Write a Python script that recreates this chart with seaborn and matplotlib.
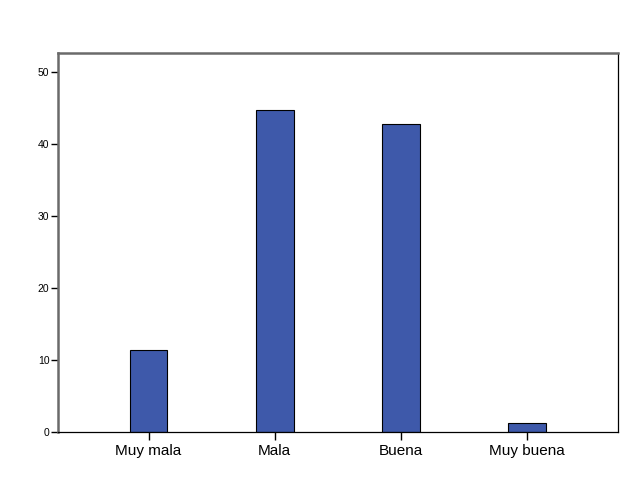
import pandas as pd
import seaborn as sns
import matplotlib
matplotlib.use("Agg")
import matplotlib.pyplot as plt

# data (percent)
categories = ["Muy mala", "Mala", "Buena", "Muy buena"]
values = [11.3, 44.8, 42.8, 1.2]
yticks = [0, 10, 20, 30, 40, 50]

df = pd.DataFrame({"cat": categories, "val": values})

sns.set_style("white")
plt.rcParams["font.family"] = ["Liberation Sans", "DejaVu Sans"]
plt.rcParams["text.color"] = "black"

fig = plt.figure(figsize=(6.26, 5.01), dpi=100)
ax = fig.add_axes([57.7 / 626, 69.3 / 501, 560.3 / 626, 379 / 501])

sns.barplot(data=df, x="cat", y="val", order=categories, color="#3E59AA",
            saturation=1, width=0.3, edgecolor="black", linewidth=0.8, ax=ax)

ax.set_xlim(-0.72, 3.72)
ax.set_ylim(0, 52.7)
ax.set_yticks(yticks)
ax.set_xlabel("")
ax.set_ylabel("")

ax.tick_params(axis="y", direction="out", length=5, width=1, pad=1,
               labelsize=7.5, left=True, color="black", labelcolor="black")
ax.tick_params(axis="x", direction="out", length=6, width=1, pad=3,
               labelsize=11, bottom=True, color="black", labelcolor="black")

for side in ["left", "top"]:
    ax.spines[side].set_color("#6a6a6a")
    ax.spines[side].set_linewidth(1.8)
for side in ["right", "bottom"]:
    ax.spines[side].set_color("black")
    ax.spines[side].set_linewidth(0.9)
for s in ax.spines.values():
    s.set_visible(True)

fig.savefig("out.png", dpi=100, facecolor="white")
